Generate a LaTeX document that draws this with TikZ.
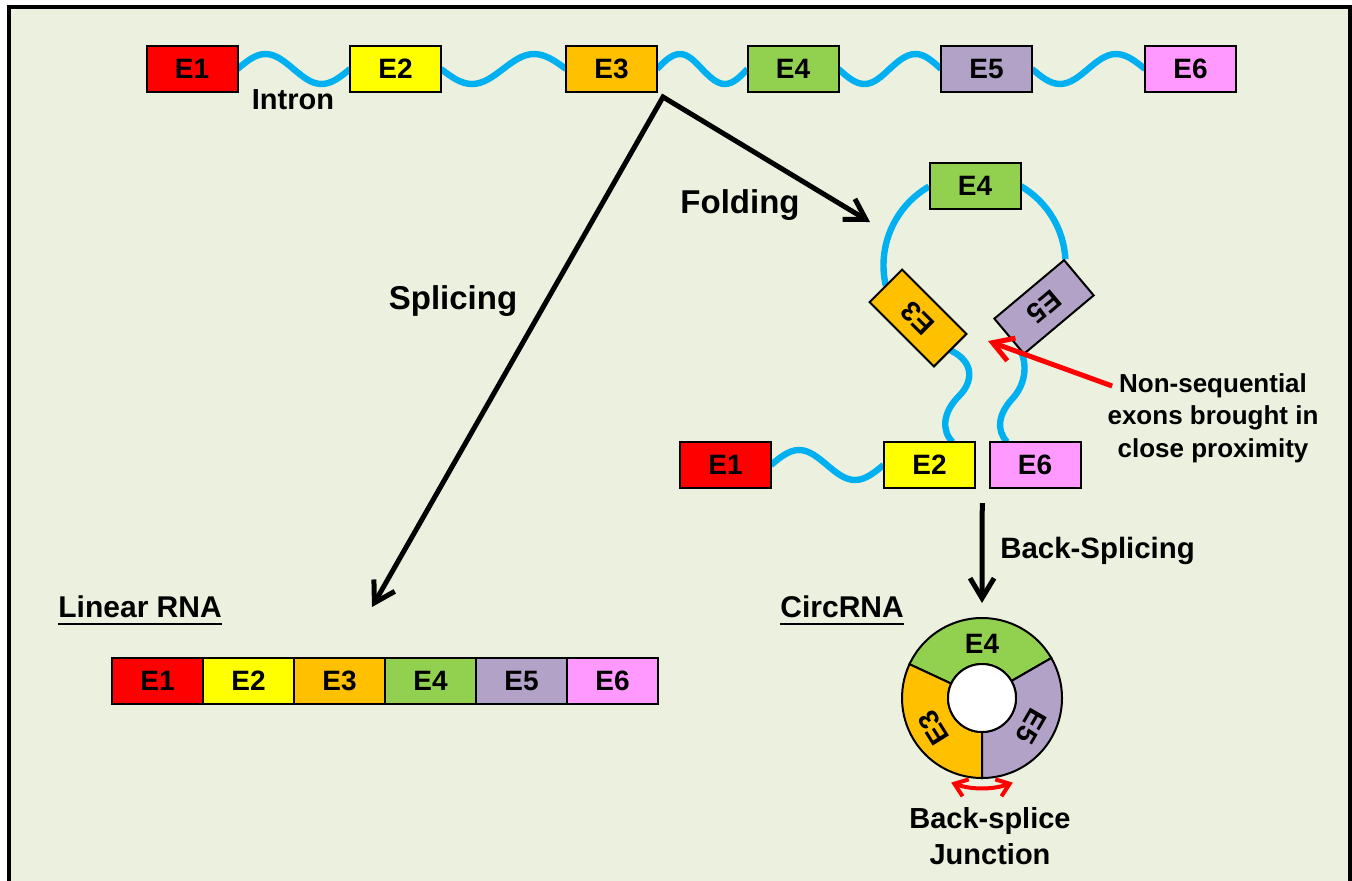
\documentclass[tikz,border=0pt]{standalone}
\usepackage{fontspec}
\setmainfont{Liberation Sans}
\usetikzlibrary{positioning,calc,arrows.meta}

\definecolor{bgcol}{HTML}{EBF1DE}
\definecolor{exA}{HTML}{FF0000}
\definecolor{exB}{HTML}{FFFF00}
\definecolor{exC}{HTML}{FFC000}
\definecolor{exD}{HTML}{92D050}
\definecolor{exE}{HTML}{B3A2C7}
\definecolor{exF}{HTML}{FF99FF}
\definecolor{intr}{HTML}{00B0F0}

\pgfdeclarelayer{bg}
\pgfsetlayers{bg,main}

\tikzset{
  exon/.style={draw=black, line width=1pt, minimum width=45.5pt, minimum height=23pt,
    inner sep=0pt, outer sep=0pt, font=\fontsize{14}{14}\selectfont\bfseries},
  intron/.style={draw=intr, line width=3.2pt},
  lbl/.style={font=\fontsize{#1}{#1}\selectfont\bfseries, inner sep=0pt},
  lbl/.default=15,
  barb/.tip={Straight Barb[length=10pt,width=12pt]},
  smallbarb/.tip={Straight Barb[length=6pt,width=9pt]},
  bigarrow/.style={line width=2.5pt, line join=miter},
}

\begin{document}
\begin{tikzpicture}[x=0.5pt,y=0.5pt]
\useasboundingbox (0,0) rectangle (1352,-880);
\clip (0,0) rectangle (1352,-880);

% pre-mRNA
\node[exon, fill=exA] (t1) at (192,-69) {E1};
\node[exon, fill=exB] (t2) at (395.5,-69) {E2};
\node[exon, fill=exC] (t3) at (611.5,-69) {E3};
\node[exon, fill=exD] (t4) at (793,-69) {E4};
\node[exon, fill=exE] (t5) at (986.5,-69) {E5};
\node[exon, fill=exF] (t6) at (1190.5,-69) {E6};
\node[lbl=14.5, anchor=base] (intronlbl) at (293,-109) {Intron};

% folded pre-mRNA
\node[exon, fill=exD] (f4) at (975,-186) {E4};
\node[exon, fill=exC, rotate=135] (f3) at (918,-318) {E3};
\node[exon, fill=exE, rotate=220] (f5) at (1044,-307) {E5};
\node[exon, fill=exA] (f1) at (725.5,-465) {E1};
\node[exon, fill=exB] (f2) at (929.5,-465) {E2};
\node[exon, fill=exF] (f6) at (1035,-465) {E6};

\coordinate (j2) at ($(f2.north)+(23,0)$);
\coordinate (s5) at ($(f5.east)!0.7!(f5.north east)$);
\coordinate (j6) at ($(f6.north)+(-28,0)$);

\begin{pgfonlayer}{bg}
  \draw[fill=bgcol, line width=2pt] (9,-7) rectangle (1350,-900);
  % introns
  \draw[intron] (t1.east) sin ++(28,15) cos ++(28,-15) sin ++(28,-15) cos ++(28.5,15);
  \draw[intron] (t2.east) sin ++(31,-15) cos ++(31,15) sin ++(31,15) cos ++(32,-15);
  \draw[intron] (t3.east) sin ++(23,15) cos ++(22,-15) sin ++(23,-15) cos ++(22.5,15);
  \draw[intron] (t4.east) sin ++(26,-15) cos ++(25,15) sin ++(26,15) cos ++(25.5,-15);
  \draw[intron] (t5.east) sin ++(28,-15) cos ++(28,15) sin ++(28,15) cos ++(29,-15);
  \draw[intron] (f1.east) sin ++(28,15) cos ++(28,-15) sin ++(28,-15) cos ++(28.5,15);
  \draw[intron] (f3.east) arc[start angle=193, end angle=120, radius=91];
  \draw[intron] (f4.east) arc[start angle=60, end angle=3, radius=90];
  \draw[intron] (f3.west) .. controls (975,-362) and (973,-382) .. (959,-396)
    .. controls (943,-412) and (941,-430) .. (j2);
  \draw[intron] (s5) .. controls (1027,-362) and (1027,-382) .. (1013,-398)
    .. controls (998,-414) and (996,-430) .. (j6);
\end{pgfonlayer}

% splicing and folding arrows
\coordinate (apex) at ($(t3.south east)+(6,-5)$);
\coordinate (splice) at (372,-607);
\coordinate (fold) at (870,-222);
\draw[bigarrow, barb-barb] (splice) -- (apex) -- (fold);
\node[lbl=16.5, anchor=base] (foldlbl) at (740,-213) {Folding};
\node[lbl=16.5, anchor=base] (splicelbl) at (453,-309) {Splicing};

% note on the close exons
\node[font=\fontsize{13}{16.25}\selectfont\bfseries, align=center, inner sep=0pt] (note)
  at (1213,-418) {Non-sequential\\exons brought in\\close proximity};
\coordinate (notetip) at (988,-341);
\draw[bigarrow, color=exA, -barb] ($(note.north west)+(5,-13)$) -- (notetip);

% linear RNA
\node[lbl, anchor=base west] (linlbl) at (58,-617) {Linear RNA};
\draw[line width=1.3pt] ([yshift=-3.5pt]linlbl.base west) -- ([yshift=-3.5pt]linlbl.base east);
\node[exon, fill=exA] (l1) at (157.5,-681) {E1};
\node[exon, fill=exB, right=0pt of l1] (l2) {E2};
\node[exon, fill=exC, right=0pt of l2] (l3) {E3};
\node[exon, fill=exD, right=0pt of l3] (l4) {E4};
\node[exon, fill=exE, right=0pt of l4] (l5) {E5};
\node[exon, fill=exF, right=0pt of l5] (l6) {E6};

% circRNA
\coordinate (ring) at (982,-698);
\coordinate (bstop) at ($(f2.south east)!0.5!(f6.south west)+(0,-15)$);
\draw[bigarrow, -barb] (bstop) -- ($(ring)+(0,95)$);
\node[lbl=14.7, anchor=base west] (bslbl) at (1000,-558) {Back-Splicing};
\node[lbl, anchor=base west] (circlbl) at (780,-617) {CircRNA};
\draw[line width=1.3pt] ([yshift=-3.5pt]circlbl.base west) -- ([yshift=-3.5pt]circlbl.base east);

\filldraw[fill=exD, line width=1pt] ($(ring)+(30:34)$) -- ($(ring)+(30:80)$)
  arc[start angle=30, end angle=155, radius=80] -- ($(ring)+(155:34)$)
  arc[start angle=155, end angle=30, radius=34] -- cycle;
\filldraw[fill=exC, line width=1pt] ($(ring)+(155:34)$) -- ($(ring)+(155:80)$)
  arc[start angle=155, end angle=270, radius=80] -- ($(ring)+(270:34)$)
  arc[start angle=270, end angle=155, radius=34] -- cycle;
\filldraw[fill=exE, line width=1pt] ($(ring)+(270:34)$) -- ($(ring)+(270:80)$)
  arc[start angle=270, end angle=390, radius=80] -- ($(ring)+(30:34)$)
  arc[start angle=390, end angle=270, radius=34] -- cycle;
\filldraw[fill=white, line width=1pt] (ring) circle[radius=34];
\node[lbl=14] (r4) at ($(ring)+(90:54)$) {E4};
\node[lbl=14, rotate=122] (r3) at ($(ring)+(212:57)$) {E3};
\node[lbl=14, rotate=-120] (r5) at ($(ring)+(-30:57)$) {E5};

\draw[line width=2pt, color=exA, smallbarb-smallbarb] ($(ring)+(250:90)$)
  arc[start angle=250, end angle=290, radius=90];
\node[font=\fontsize{14.5}{18}\selectfont\bfseries, align=center, inner sep=0pt] (junclbl)
  at (990,-836) {Back-splice\\Junction};
\end{tikzpicture}
\end{document}
